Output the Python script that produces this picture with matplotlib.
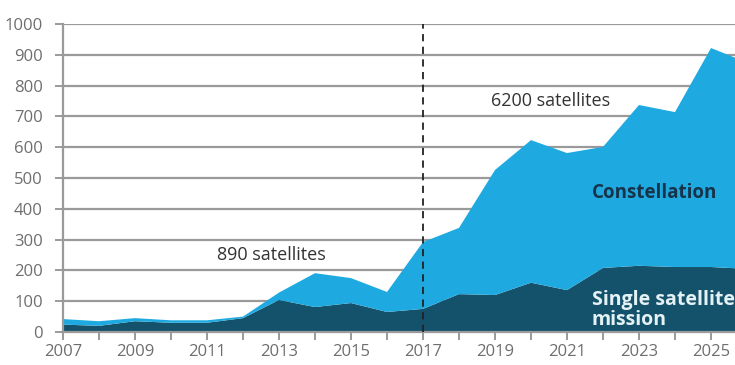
import matplotlib.pyplot as plt

plt.rcParams['font.family'] = ['Open Sans', 'DejaVu Sans']

years = [2007, 2008, 2009, 2010, 2011, 2012, 2013, 2014, 2015, 2016,
         2017, 2018, 2019, 2020, 2021, 2022, 2023, 2024, 2025, 2026]
single_mission = [24, 20, 35, 30, 30, 45, 104, 81, 94, 65,
                  75, 123, 120, 160, 136, 208, 215, 211, 211, 205]
total = [42, 35, 45, 38, 38, 50, 128, 191, 175, 130,
         292, 338, 526, 623, 581, 601, 737, 714, 922, 875]
constellation = [t - s for t, s in zip(total, single_mission)]

y_ticks = [0, 100, 200, 300, 400, 500, 600, 700, 800, 900, 1000]
x_labels = [2007, 2009, 2011, 2013, 2015, 2017, 2019, 2021, 2023, 2025]

light_blue = '#1EAAE0'
dark_blue = '#14516B'
grid_grey = '#9A9A9A'
text_grey = '#6E6E6E'

W, H = 735, 365
fig = plt.figure(figsize=(W / 100, H / 100), dpi=100)
ax = fig.add_axes([63 / W, (H - 332) / H, (747 - 63) / W, (332 - 24) / H])

ax.stackplot(years, single_mission, constellation,
             colors=[dark_blue, light_blue], linewidth=0, zorder=2)

ax.set_xlim(2007, 2026)
ax.set_ylim(0, 1000)
ax.set_yticks(y_ticks)
ax.set_xticks(years, minor=True)
ax.set_xticks(x_labels)
ax.set_xticklabels([str(y) for y in x_labels])

ax.grid(axis='y', color=grid_grey, linewidth=1.6, zorder=1)
ax.set_axisbelow(True)
for side in ('top', 'right'):
    ax.spines[side].set_visible(False)
ax.spines['left'].set_color(grid_grey)
ax.spines['left'].set_linewidth(1.6)
ax.spines['bottom'].set_color(grid_grey)
ax.spines['bottom'].set_linewidth(1.6)
ax.spines['bottom'].set_zorder(3)

ax.tick_params(axis='y', length=6, width=1.4, color=grid_grey,
               labelcolor=text_grey, labelsize=12, pad=8.5)
ax.tick_params(axis='x', which='both', length=6, width=1.4, color=grid_grey,
               labelcolor=text_grey, labelsize=12, pad=3)

ax.axvline(2017, color='#222222', linewidth=1.3, linestyle=(0, (4, 3)), zorder=4)

box = dict(facecolor='white', edgecolor='none', pad=1.5)
ax.text(2012.78, 250, '890 satellites', ha='center', va='center',
        fontsize=13, color='#333333', bbox=box, zorder=5)
ax.text(2020.53, 750, '6200 satellites', ha='center', va='center',
        fontsize=13, color='#333333', bbox=box, zorder=5)

ax.text(2023.44, 451, 'Constellation', ha='center', va='center',
        fontsize=13.5, fontweight='bold', color='#17334A', zorder=5)
ax.text(2021.69, 71, 'Single satellite\nmission', ha='left', va='center',
        fontsize=14, fontweight='bold', color='#E4F1F5',
        linespacing=1.02, zorder=5)

fig.savefig('out.png', dpi=100)
